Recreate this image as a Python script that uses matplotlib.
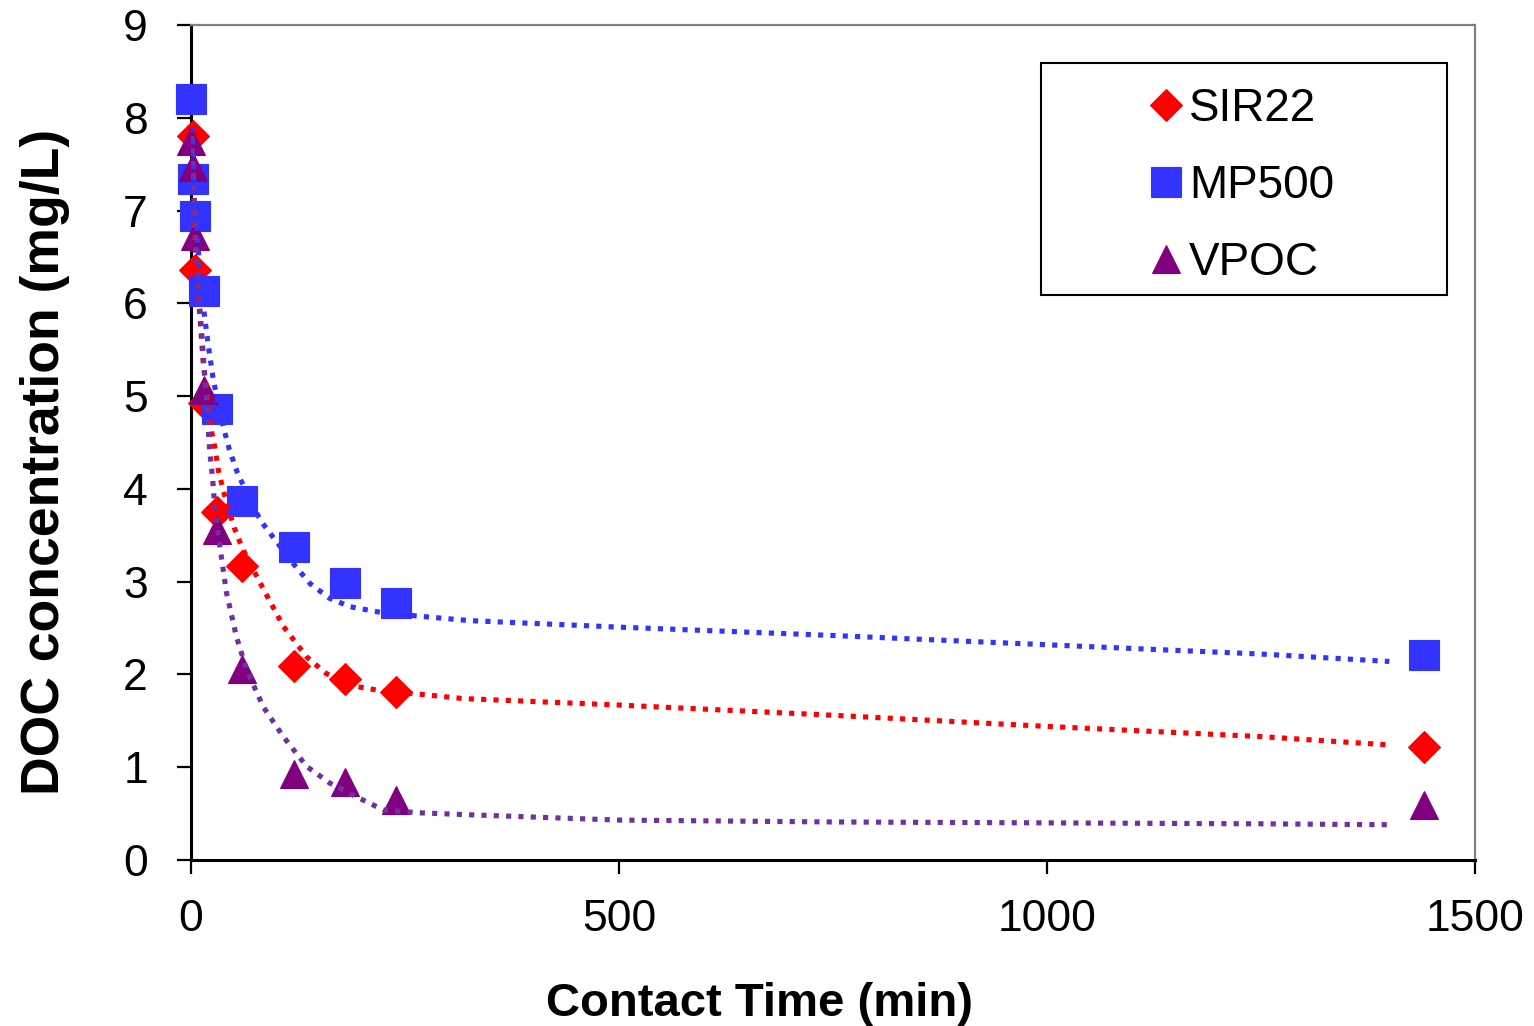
import matplotlib

matplotlib.use("Agg")
import matplotlib.pyplot as plt
from matplotlib.patches import Rectangle

plt.rcParams["font.family"] = ["Liberation Sans", "DejaVu Sans"]

# measured DOC concentration (mg/L) vs contact time (min)
time_sir22 = [2, 5, 15, 30, 60, 120, 180, 240, 1440]
doc_sir22 = [7.80, 6.36, 4.93, 3.75, 3.17, 2.09, 1.95, 1.81, 1.22]

time_mp500 = [0, 2, 5, 15, 30, 60, 120, 180, 240, 1440]
doc_mp500 = [8.20, 7.34, 6.94, 6.13, 4.86, 3.87, 3.37, 2.99, 2.77, 2.21]

time_vpoc = [0, 2, 5, 15, 30, 60, 120, 180, 240, 1440]
doc_vpoc = [7.75, 7.47, 6.73, 5.07, 3.56, 2.06, 0.93, 0.84, 0.65, 0.59]

# fitted curves (dotted)
fit_t_sir22 = [1, 2, 5, 8.5, 10.5, 12.5, 14.4, 16.4, 20, 24, 28, 32, 36, 39, 47,
               51, 60, 80.6, 107.8, 135, 158, 193.5, 224.7, 263.6, 318, 500,
               750, 1000, 1250, 1400]
fit_c_sir22 = [7.80, 7.55, 6.60, 6.05, 5.86, 5.59, 5.34, 5.20, 4.95, 4.62, 4.44,
               4.20, 4.05, 3.94, 3.69, 3.57, 3.36, 2.99, 2.52, 2.19, 2.01, 1.87,
               1.82, 1.79, 1.74, 1.67, 1.56, 1.44, 1.33, 1.24]

fit_t_mp500 = [1, 3, 6, 10, 16, 20, 26, 30, 38, 45, 54, 60, 79, 86, 119, 139,
               162, 186, 221, 264, 326, 500, 750, 1000, 1250, 1400]
fit_c_mp500 = [7.90, 7.40, 6.90, 6.40, 5.85, 5.56, 5.18, 5.00, 4.66, 4.42, 4.18,
               4.06, 3.70, 3.60, 3.20, 2.98, 2.82, 2.73, 2.67, 2.63, 2.58, 2.51,
               2.42, 2.32, 2.22, 2.14]

fit_t_vpoc = [1, 2.7, 6, 10.5, 12.5, 14.4, 17, 19, 22, 25, 27.2, 32, 41.5, 53,
              65, 84.5, 107.8, 135, 162, 193.5, 224.7, 263.6, 318, 500, 750,
              1000, 1250, 1400]
fit_c_vpoc = [7.80, 7.37, 6.60, 5.94, 5.68, 5.43, 5.10, 4.80, 4.39, 4.14, 3.88,
              3.49, 2.88, 2.41, 2.05, 1.65, 1.33, 1.01, 0.83, 0.68, 0.54, 0.51,
              0.49, 0.43, 0.41, 0.40, 0.39, 0.38]

x_ticks = [0, 500, 1000, 1500]
y_ticks = list(range(10))

red = "#FF0000"
blue = "#3333FF"
purple = "#800080"
purple_line = "#7030A0"

fig = plt.figure(figsize=(15.34, 10.26), dpi=100)
ax = fig.add_axes([0.1245, 0.1618, 0.8370, 0.8138])

h1, = ax.plot(time_sir22, doc_sir22, "D", color=red, ms=15.8, mew=0.8,
              mec=red, label="SIR22", zorder=3, clip_on=False)
h2, = ax.plot(time_mp500, doc_mp500, "s", color=blue, ms=22, mew=0.8,
              mec=blue, label="MP500", zorder=4, clip_on=False)
h3, = ax.plot(time_vpoc, doc_vpoc, "^", color=purple, ms=19.5, mew=0.8,
              mec=purple, label="VPOC", zorder=5, clip_on=False)

dots = (1, 1.4)
ax.plot(fit_t_sir22, fit_c_sir22, color=red, lw=3.7, dashes=dots,
        dash_capstyle="butt", zorder=6)
ax.plot(fit_t_mp500, fit_c_mp500, color=blue, lw=3.7, dashes=dots,
        dash_capstyle="butt", zorder=7)
ax.plot(fit_t_vpoc, fit_c_vpoc, color=purple_line, lw=3.7, dashes=dots,
        dash_capstyle="butt", zorder=8)

ax.set_xlim(0, 1500)
ax.set_ylim(0, 9)
ax.set_xticks(x_ticks)
ax.set_yticks(y_ticks)

for side in ["left", "bottom"]:
    ax.spines[side].set_color("black")
    ax.spines[side].set_linewidth(2.2)
for side in ["top", "right"]:
    ax.spines[side].set_color("#808080")
    ax.spines[side].set_linewidth(1.6)

ax.tick_params(axis="both", direction="out", length=10, width=1.6,
               labelsize=32, color="black")
ax.tick_params(axis="y", pad=21)
ax.tick_params(axis="x", pad=18)

ax.set_xlabel("Contact Time (min)", fontsize=34, fontweight="bold")
ax.xaxis.set_label_coords(0.443, -0.146)
ax.set_ylabel("DOC concentration (mg/L)", fontsize=38.5, fontweight="bold")
ax.yaxis.set_label_coords(-0.094, 0.4766)

# legend box
ax.add_patch(Rectangle((0.662, 0.6766), 0.3162, 0.2779, transform=ax.transAxes,
                       facecolor="white", edgecolor="black", lw=1.5,
                       zorder=9, clip_on=False))
ax.legend(handles=[h1, h2, h3], loc="center", bbox_to_anchor=(0.8185, 0.8067),
          frameon=False, fontsize=33, numpoints=1, handlelength=0.7,
          handletextpad=0.15, labelspacing=0.72, borderpad=0).set_zorder(10)

fig.savefig("out.png", dpi=100)
